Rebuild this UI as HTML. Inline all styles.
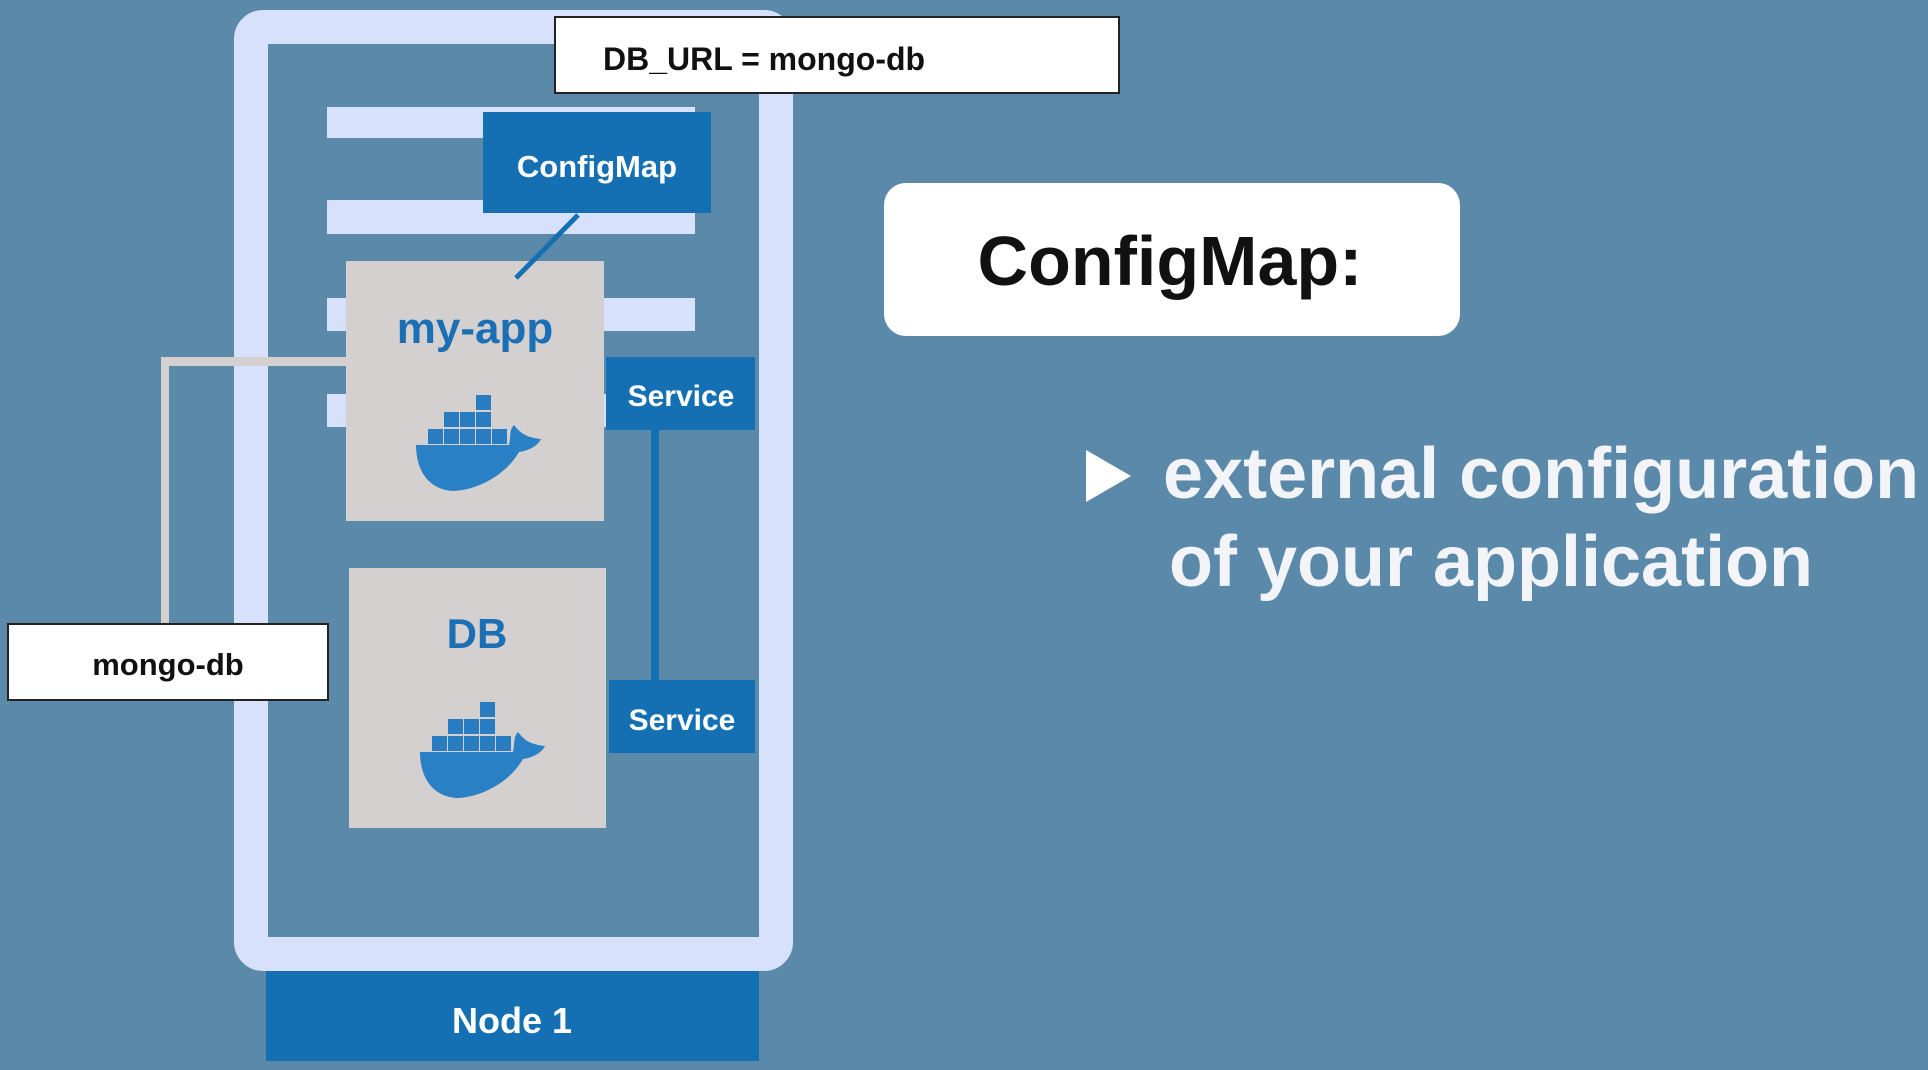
<!DOCTYPE html>
<html><head><meta charset="utf-8"><style>
html,body{margin:0;padding:0;background:#5b89aa;}
svg{display:block}
text{font-family:"Liberation Sans",sans-serif;font-weight:bold}
</style></head><body>
<svg width="1928" height="1070" viewBox="0 0 1928 1070" xmlns="http://www.w3.org/2000/svg">
<defs>
<g id="whale">
<g fill="#2a7cc0">
<rect x="60" y="0" width="15" height="15"/>
<rect x="28" y="17" width="15" height="15"/><rect x="44" y="17" width="15" height="15"/><rect x="60" y="17" width="15" height="15"/>
<rect x="12" y="34" width="15" height="15"/><rect x="28" y="34" width="15" height="15"/><rect x="44" y="34" width="15" height="15"/><rect x="60" y="34" width="15" height="15"/><rect x="76" y="34" width="15" height="15"/>
</g>
<path fill="#2a80c4" d="M0,50 H93 C95,42 93,35 98,30 C103,36 107,42 125,44 C121,52 111,56 103,57 C88,83 57,96 36,96 C12,94 0,75 0,50 Z"/>
</g>
</defs>
<rect width="1928" height="1070" fill="#5b89aa"/>
<rect x="251" y="27" width="525" height="927" rx="12" fill="none" stroke="#d8e1fb" stroke-width="34"/>
<g fill="#d8e1fb">
<rect x="327" y="107" width="368" height="31"/>
<rect x="327" y="200" width="368" height="34"/>
<rect x="327" y="298" width="368" height="33"/>
<rect x="327" y="394" width="368" height="33"/>
</g>
<rect x="161" y="357" width="190" height="9" fill="#d5d0d0"/>
<rect x="161" y="357" width="8" height="268" fill="#d5d0d0"/>
<rect x="555" y="17" width="564" height="76" fill="#fff" stroke="#222" stroke-width="2"/>
<text x="603" y="70" font-size="32" fill="#111">DB_URL = mongo-db</text>
<rect x="483" y="112" width="228" height="101" fill="#1470b3"/>
<text x="597" y="177" font-size="31" fill="#fff" text-anchor="middle">ConfigMap</text>
<rect x="346" y="261" width="258" height="260" fill="#d5d0d0"/>
<line x1="578" y1="215" x2="516" y2="278" stroke="#1470b3" stroke-width="5"/>
<text x="475" y="343" font-size="44" fill="#1b70b5" text-anchor="middle">my-app</text>
<use href="#whale" x="416" y="395"/>
<rect x="606" y="357" width="149" height="73" fill="#1470b3"/>
<text x="681" y="406" font-size="30" fill="#fff" text-anchor="middle">Service</text>
<rect x="651" y="430" width="8" height="252" fill="#1470b3"/>
<rect x="349" y="568" width="257" height="260" fill="#d5d0d0"/>
<text x="477" y="648" font-size="42" fill="#1b70b5" text-anchor="middle">DB</text>
<use href="#whale" x="420" y="702"/>
<rect x="609" y="680" width="146" height="73" fill="#1470b3"/>
<text x="682" y="730" font-size="30" fill="#fff" text-anchor="middle">Service</text>
<rect x="8" y="624" width="320" height="76" fill="#fff" stroke="#222" stroke-width="2"/>
<text x="168" y="675" font-size="31" fill="#111" text-anchor="middle">mongo-db</text>
<rect x="266" y="971" width="493" height="90" fill="#1470b3"/>
<text x="512" y="1033" font-size="36" fill="#fff" text-anchor="middle">Node 1</text>
<rect x="884" y="183" width="576" height="153" rx="22" fill="#fff"/>
<text x="1170" y="285" font-size="70" fill="#111" text-anchor="middle">ConfigMap:</text>
<polygon points="1086,450 1131,476 1086,502" fill="#fff"/>
<text x="1163" y="498" font-size="72" fill="#f2f4f8">external configuration</text>
<text x="1169" y="586" font-size="72" fill="#f2f4f8">of your application</text>
</svg>
</body></html>
